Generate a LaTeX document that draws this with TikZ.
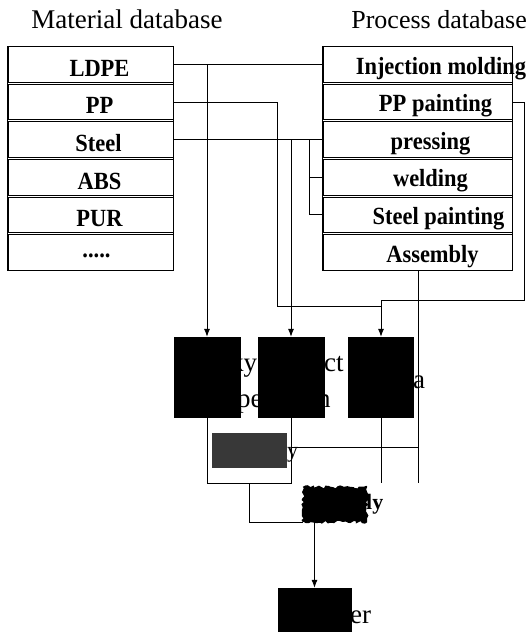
\documentclass[tikz,border=0pt]{standalone}
\usepackage{fontspec}
\setmainfont{Liberation Serif}
\newfontfamily\cellfont[FakeStretch=0.91]{Liberation Serif}
\usetikzlibrary{arrows.meta,decorations.pathmorphing}
\begin{document}
\begin{tikzpicture}[x=1pt,y=-1pt,
  cell/.style={draw, line width=0.8pt, minimum height=35.6pt, inner sep=0pt},
  mcell/.style={cell, minimum width=165pt},
  pcell/.style={cell, minimum width=189pt},
  ctext/.style={font=\cellfont\fontsize{24.7}{24.7}\selectfont\bfseries, inner sep=0pt, yshift=-4pt},
  title/.style={font=\fontsize{27}{27}\selectfont, inner sep=0pt, anchor=base},
  frag/.style={font=\fontsize{27}{27}\selectfont, inner sep=0pt, anchor=base west},
  blk/.style={fill=black, draw=black, inner sep=0pt, minimum height=80pt},
  conn/.style={line width=0.8pt},
  arr/.style={conn, -{Latex[length=8pt,width=6pt]}},
]
\useasboundingbox (0,0) rectangle (528,632);
% titles
\node[title] (tmat) at (127,28) {Material database};
\node[title, font=\fontsize{26}{26}\selectfont, anchor=base east] (tproc) at (527,28) {Process database};
% material database
\node[mcell, label={[ctext, xshift=9pt]center:LDPE}] (ldpe) at (90.5,64.3) {};
\node[mcell, label={[ctext, xshift=9pt]center:PP}] (pp) at (90.5,101.9) {};
\node[mcell, label={[ctext, xshift=8pt]center:Steel}] (steel) at (90.5,139.5) {};
\node[mcell, label={[ctext, xshift=9pt]center:ABS}] (abs) at (90.5,177.1) {};
\node[mcell, label={[ctext, xshift=9pt]center:PUR}] (pur) at (90.5,214.7) {};
\node[mcell, label={[ctext, xshift=6pt]center:.....}] (more) at (90.5,252.3) {};
\draw[line width=0.8pt] (ldpe.north west) rectangle (more.south east);
% process database
\node[pcell, label={[ctext, xshift=23.5pt]center:Injection molding}] (inj) at (417.5,64.3) {};
\node[pcell, label={[ctext, xshift=18pt]center:PP painting}] (pppaint) at (417.5,101.9) {};
\node[pcell, label={[ctext, xshift=13pt]center:pressing}] (press) at (417.5,139.5) {};
\node[pcell, label={[ctext, xshift=13pt]center:welding}] (weld) at (417.5,177.1) {};
\node[pcell, label={[ctext, xshift=21pt]center:Steel painting}] (stpaint) at (417.5,214.7) {};
\node[pcell, label={[ctext, xshift=15pt]center:Assembly}] (assy) at (417.5,252.3) {};
\draw[line width=0.8pt] (inj.north west) rectangle (assy.south east);
% text fragments partly hidden by the black boxes
\node[frag] (fa) at (230,371) {ky};
\node[frag] (fb) at (324,371) {ct};
\node[frag] (fc) at (237,407) {pe};
\node[frag] (fd) at (317,407) {n};
\node[frag] (fe) at (413,388) {a};
\node[frag] (ff) at (350,623) {er};
\node[frag, font=\fontsize{22}{22}\selectfont] (fg) at (287,457) {y};
% black boxes
\node[blk, minimum width=66pt] (box1) at (207,377) {};
\node[blk, minimum width=66pt] (box2) at (291,377) {};
\node[blk, minimum width=65pt] (box3) at (381,377) {};
\node[blk, minimum width=73pt, minimum height=60pt] (box4) at (314.5,618) {};
% blurred labels
\node[fill=black!78, inner sep=0pt, minimum width=75pt, minimum height=35pt] (g1) at (249.5,450.5) {};
\node[inner sep=0pt, minimum width=64pt, minimum height=35pt] (asm2) at (335,504.5) {};
\fill[black, decorate, decoration={random steps, segment length=2.5pt, amplitude=1.6pt}]
  (asm2.south west) rectangle (asm2.north east);
\node[frag, font=\fontsize{22}{22}\selectfont\bfseries] (fh) at (366,509) {ly};
% connectors
\coordinate (sb) at (309,0);
\coordinate (c1) at (277,306);
\coordinate (c3) at (524,300);
\coordinate (e1) at (207,483);
\coordinate (e2) at (291,483);
\coordinate (em) at (249,483);
\coordinate (f3) at (381,483);
\coordinate (f4) at (418,483);
\coordinate (h1) at (418,447);
\coordinate (h2) at (291,447);
\draw[conn] (ldpe.east) -- (inj.west);
\draw[arr] (ldpe.east -| box1.north) -- (box1.north);
\draw[conn] (pp.east) -| (c1) -- (c1 -| box3.north);
\draw[arr] (pppaint.east) -| (c3) -| (box3.north);
\draw[conn] (steel.east) -- (press.west);
\draw[arr] (steel.east -| box2.north) -- (box2.north);
\draw[conn] (steel.east -| sb) |- (weld.west);
\draw[conn] (steel.east -| sb) |- (stpaint.west);
\draw[conn] (box1.south) -- (e1) -- (e2) -- (box2.south);
\draw[conn] (box3.south) -- (f3);
\draw[conn] (assy.south -| f4) -- (f4);
\draw[conn] (h1) -- (h2);
\draw[conn] (em) |- (asm2.south west);
\draw[arr] (asm2.south west -| box4.north) -- (box4.north);
\end{tikzpicture}
\end{document}
